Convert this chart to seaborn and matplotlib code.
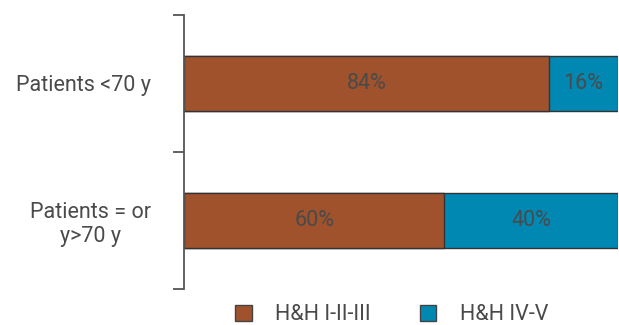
import matplotlib
matplotlib.use("Agg")
import matplotlib.pyplot as plt
import seaborn as sns
import pandas as pd
from matplotlib.patches import Patch

categories = ["Patients <70 y", "Patients = or\ny>70 y"]
hh_1_3 = [84, 60]
hh_4_5 = [16, 40]
series_names = ["H&H I-II-III", "H&H IV-V"]
colors = ["#A0522D", "#0088B3"]

sns.set_theme(style="white")
plt.rcParams["font.family"] = ["Roboto", "DejaVu Sans"]
text_color = "#4a4a4a"
fs = 15.5

df = pd.DataFrame({"category": categories, "low": hh_1_3, "high": hh_4_5})
df["total"] = df["low"] + df["high"]

fig = plt.figure(figsize=(6.19, 3.25), dpi=100)
ax = fig.add_axes([184 / 619, 1 - 289 / 325, (618 - 184) / 619, (289 - 15) / 325])

sns.barplot(data=df, y="category", x="total", color=colors[1], orient="h",
            width=0.4, edgecolor="#333333", linewidth=1.0, ax=ax, saturation=1)
sns.barplot(data=df, y="category", x="low", color=colors[0], orient="h",
            width=0.4, edgecolor="#333333", linewidth=1.0, ax=ax, saturation=1)

ax.set_xlim(0, 100)
ax.set_ylim(1.5, -0.5)
ax.set_xlabel("")
ax.set_ylabel("")
ax.set_xticks([])
for s in ["top", "right", "bottom"]:
    ax.spines[s].set_visible(False)
ax.spines["left"].set_color("#555555")
ax.spines["left"].set_linewidth(1.3)

ax.set_yticks(range(len(categories)))
ax.set_yticklabels(categories, fontsize=fs, color=text_color,
                   multialignment="center")
ax.tick_params(axis="y", which="major", left=False, length=0, pad=24)
ax.set_yticks([-0.5, 0.5, 1.5], minor=True)
ax.tick_params(axis="y", which="minor", left=True, length=8, width=1.3,
               color="#555555", direction="out")

for i, (a, b) in enumerate(zip(hh_1_3, hh_4_5)):
    ax.text(a / 2, i, f"{a}%", ha="center", va="center", fontsize=fs,
            color=text_color)
    ax.text(a + b / 2, i, f"{b}%", ha="center", va="center", fontsize=fs,
            color=text_color)

handles = [Patch(facecolor=c, edgecolor="#444444", linewidth=1.0) for c in colors]
fig.legend(handles, series_names, loc="center", bbox_to_anchor=(392 / 619, 1 - 315 / 325),
           ncol=2, frameon=False, handlelength=0.75, handleheight=0.75,
           columnspacing=2.3, handletextpad=1.1, labelcolor=text_color,
           prop={"family": ["Roboto", "DejaVu Sans"], "size": fs})

fig.savefig("out.png", dpi=100)
